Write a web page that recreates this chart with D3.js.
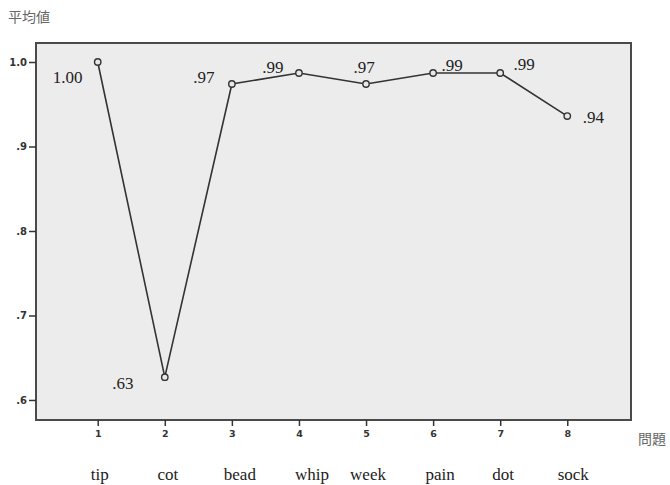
<!DOCTYPE html>
<html><head><meta charset="utf-8">
<script src="https://cdn.jsdelivr.net/npm/d3@7/dist/d3.min.js"></script>
<style>body{margin:0;background:#fff}svg{display:block}</style>
</head><body>
<script>
const categories = ["tip","cot","bead","whip","week","pain","dot","sock"];
const xTicks = [1,2,3,4,5,6,7,8];
const means = [1.000, 0.627, 0.974, 0.987, 0.974, 0.987, 0.987, 0.936];
const valueLabels = ["1.00", ".63", ".97", ".99", ".97", ".99", ".99", ".94"];
const yTicks = [0.6, 0.7, 0.8, 0.9, 1.0];
const yTickLabels = [".6", ".7", ".8", ".9", "1.0"];
const yTitle = "平均値";
const xTitle = "問題";
// label offsets relative to each point (placement only)
const labelOffsets = [[-30,21],[-42,12],[-28,-1],[-26,0],[-2,-11],[19,-2],[24,-3],[26,7]];
const catOffsets = [2,3,8,13,2,7,3,6];

const SERIF = '"Liberation Serif"';
const SANS = '"DejaVu Sans"';
const CJK = '"Noto Sans CJK JP"';

const W = 670, H = 485;
const m = {left:36, right:631, top:43, bottom:420};
const svg = d3.select("body").append("svg").attr("width",W).attr("height",H);

const x = d3.scaleLinear().domain([0.08, 8.95]).range([m.left, m.right]);
const y = d3.scaleLinear().domain([0.5763, 1.0225]).range([m.bottom, m.top]);

svg.append("rect").attr("x",m.left).attr("y",m.top)
  .attr("width",m.right-m.left).attr("height",m.bottom-m.top)
  .attr("fill","#ececec").attr("stroke","#4a4a4a").attr("stroke-width",2);

// Y axis
const yAxis = d3.axisLeft(y).tickValues(yTicks).tickSize(7).tickPadding(2)
  .tickFormat((d,i)=>yTickLabels[i]);
const gy = svg.append("g").attr("transform",`translate(${m.left},0)`).call(yAxis);
gy.select(".domain").remove();
gy.selectAll(".tick line").attr("stroke","#333").attr("stroke-width",1.5);
gy.selectAll(".tick text").style("font-family",SANS).style("font-weight","bold")
  .style("font-size","10px").attr("fill","#333");

// X axis
const xAxis = d3.axisBottom(x).tickValues(xTicks).tickSize(6).tickPadding(4)
  .tickFormat(d3.format("d"));
const gx = svg.append("g").attr("transform",`translate(0,${m.bottom})`).call(xAxis);
gx.select(".domain").remove();
gx.selectAll(".tick line").attr("stroke","#333").attr("stroke-width",1.5);
gx.selectAll(".tick text").style("font-family",SANS).style("font-weight","bold")
  .style("font-size","9.5px").attr("fill","#333");

// line
const pts = means.map((v,i)=>({x:xTicks[i], v}));
svg.append("path").datum(pts)
  .attr("d", d3.line().x(d=>x(d.x)).y(d=>y(d.v)))
  .attr("fill","none").attr("stroke","#333").attr("stroke-width",1.6);
svg.selectAll("circle.pt").data(pts).join("circle")
  .attr("cx",d=>x(d.x)).attr("cy",d=>y(d.v)).attr("r",3.2)
  .attr("fill","#e8e8e8").attr("stroke","#333").attr("stroke-width",1.4);

// value labels
svg.selectAll("text.vl").data(pts).join("text")
  .attr("x",(d,i)=>x(d.x)+labelOffsets[i][0])
  .attr("y",(d,i)=>y(d.v)+labelOffsets[i][1])
  .attr("text-anchor","middle")
  .style("font-family",SERIF).style("font-size","17px").attr("fill","#222")
  .text((d,i)=>valueLabels[i]);

// category labels
svg.selectAll("text.cat").data(categories).join("text")
  .attr("x",(d,i)=>x(xTicks[i])+catOffsets[i]).attr("y",480)
  .attr("text-anchor","middle")
  .style("font-family",SERIF).style("font-size","17px").attr("fill","#222")
  .text(d=>d);

svg.append("text").attr("x",8).attr("y",22)
  .style("font-family",CJK).style("font-size","14px").attr("fill","#666")
  .text(yTitle);
svg.append("text").attr("x",638).attr("y",444)
  .style("font-family",CJK).style("font-size","14px").attr("fill","#666")
  .text(xTitle);
</script>
</body></html>
